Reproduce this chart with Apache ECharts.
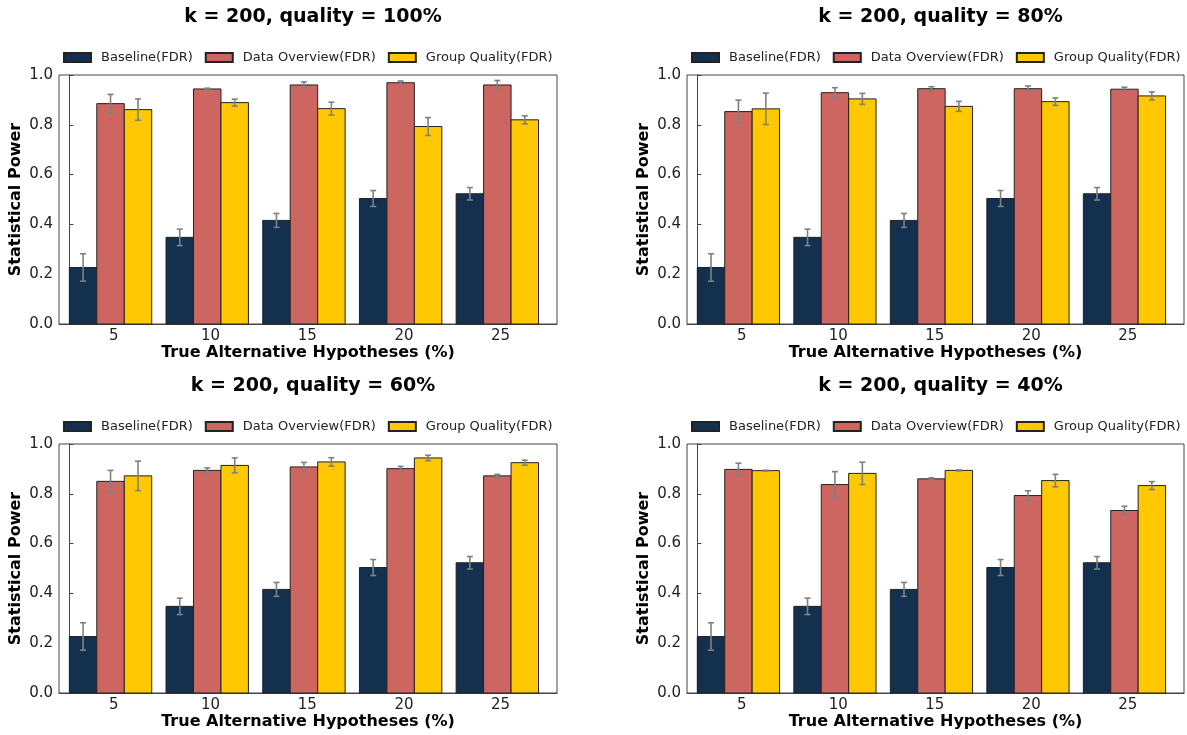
<!DOCTYPE html>
<html>
<head>
<meta charset="utf-8">
<title>Statistical Power by Quality</title>
<script src="https://cdn.jsdelivr.net/npm/echarts@6/dist/echarts.min.js"></script>
<style>
  html, body { margin: 0; padding: 0; background: #ffffff; }
  #chart { width: 1187px; height: 735px; }
</style>
</head>
<body>
<div id="chart"></div>
<script>
// Categories on the x axis: share of true alternative hypotheses (%)
const categories = ['5', '10', '15', '20', '25'];
const qualityLevels = ['100%', '80%', '60%', '40%'];
const seriesNames = ['Baseline(FDR)', 'Data Overview(FDR)', 'Group Quality(FDR)'];
const yTicks = [0, 0.2, 0.4, 0.6, 0.8, 1.0];

// Baseline does not depend on quality
const baselineMean = [0.227, 0.348, 0.416, 0.504, 0.523];
const baselineErr  = [0.055, 0.033, 0.028, 0.032, 0.025];

// quality = 100%
const overviewMean100 = [0.885, 0.944, 0.960, 0.969, 0.960];
const overviewErr100  = [0.037, 0.003, 0.012, 0.007, 0.018];
const groupMean100    = [0.861, 0.889, 0.865, 0.793, 0.820];
const groupErr100     = [0.043, 0.014, 0.026, 0.036, 0.016];

// quality = 80%
const overviewMean80 = [0.853, 0.929, 0.945, 0.945, 0.943];
const overviewErr80  = [0.046, 0.020, 0.008, 0.011, 0.008];
const groupMean80    = [0.864, 0.904, 0.874, 0.893, 0.916];
const groupErr80     = [0.063, 0.022, 0.020, 0.015, 0.016];

// quality = 60%
const overviewMean60 = [0.850, 0.894, 0.908, 0.901, 0.872];
const overviewErr60  = [0.044, 0.010, 0.018, 0.009, 0.006];
const groupMean60    = [0.872, 0.914, 0.928, 0.944, 0.925];
const groupErr60     = [0.059, 0.030, 0.017, 0.011, 0.010];

// quality = 40%
const overviewMean40 = [0.898, 0.837, 0.860, 0.793, 0.733];
const overviewErr40  = [0.025, 0.052, 0.004, 0.019, 0.017];
const groupMean40    = [0.893, 0.882, 0.894, 0.853, 0.833];
const groupErr40     = [0.002, 0.045, 0.002, 0.025, 0.016];

const panels = [
  { quality: qualityLevels[0], overview: [overviewMean100, overviewErr100], group: [groupMean100, groupErr100] },
  { quality: qualityLevels[1], overview: [overviewMean80,  overviewErr80],  group: [groupMean80,  groupErr80] },
  { quality: qualityLevels[2], overview: [overviewMean60,  overviewErr60],  group: [groupMean60,  groupErr60] },
  { quality: qualityLevels[3], overview: [overviewMean40,  overviewErr40],  group: [groupMean40,  groupErr40] }
];

const colors = ['#14304f', '#cd6660', '#ffc800'];
const FONT = '"DejaVu Sans", "Liberation Sans", sans-serif';

// Bar geometry in x-axis units: each group starts at integer i
const BAR_W = 0.284;
const TICK_OFFSET = 0.46;
const X_MIN = -0.107, X_MAX = 5.043;

// Grid boxes (pixels)
const grids = [
  { left: 59,  top: 75,  width: 498, height: 249 },
  { left: 687, top: 75,  width: 497, height: 249 },
  { left: 59,  top: 444, width: 498, height: 249 },
  { left: 687, top: 444, width: 497, height: 249 }
];

function makeRender(slot, fill) {
  return function (params, api) {
    const i = api.value(0), v = api.value(1), e = api.value(2);
    const p0 = api.coord([i + slot * BAR_W, 0]);
    const p1 = api.coord([i + (slot + 1) * BAR_W, v]);
    const cx = api.coord([i + (slot + 0.5) * BAR_W, v])[0];
    const yHi = api.coord([i, v + e])[1];
    const yLo = api.coord([i, v - e])[1];
    const cap = 3;
    const errStyle = { stroke: '#808080', lineWidth: 1.6 };
    return {
      type: 'group',
      children: [
        { type: 'rect',
          shape: { x: p0[0], y: p1[1], width: p1[0] - p0[0], height: p0[1] - p1[1] },
          style: { fill: fill, stroke: '#222222', lineWidth: 1 } },
        { type: 'line', shape: { x1: cx, y1: yHi, x2: cx, y2: yLo }, style: errStyle },
        { type: 'line', shape: { x1: cx - cap, y1: yHi, x2: cx + cap, y2: yHi }, style: errStyle },
        { type: 'line', shape: { x1: cx - cap, y1: yLo, x2: cx + cap, y2: yLo }, style: errStyle }
      ]
    };
  };
}

const option = {
  animation: false,
  backgroundColor: '#ffffff',
  title: [],
  legend: [],
  grid: [],
  xAxis: [],
  yAxis: [],
  series: []
};

panels.forEach(function (panel, k) {
  const g = grids[k];
  option.grid.push({
    left: g.left, top: g.top, width: g.width, height: g.height,
    show: true, borderColor: '#444444', borderWidth: 1, backgroundColor: 'transparent'
  });

  option.title.push({
    text: 'k = 200, quality = ' + panel.quality,
    left: g.left + g.width / 2,
    textAlign: 'center',
    top: g.top - 72,
    textStyle: { fontFamily: FONT, fontWeight: 'bold', fontSize: 19, color: '#000000' }
  });

  option.legend.push({
    data: seriesNames,
    left: g.left + 4,
    top: g.top - 24,
    width: 560,
    padding: 0,
    itemWidth: 27,
    itemHeight: 9,
    itemGap: 12,
    icon: 'rect',
    textStyle: { fontFamily: FONT, fontSize: 13, color: '#222222', padding: [0, 0, 0, 5] }
  });

  option.xAxis.push({
    type: 'value',
    gridIndex: k,
    min: X_MIN,
    max: X_MAX,
    name: 'True Alternative Hypotheses (%)',
    nameLocation: 'middle',
    nameGap: 29,
    nameTextStyle: { fontFamily: FONT, fontWeight: 'bold', fontSize: 16, color: '#000000', verticalAlign: 'middle' },
    axisLine: { show: true, lineStyle: { color: '#444444', width: 1 } },
    axisTick: { show: false },
    splitLine: { show: false },
    axisLabel: {
      customValues: categories.map(function (c, i) { return i + TICK_OFFSET; }),
      formatter: function (v) { return categories[Math.round(v - TICK_OFFSET)]; },
      fontFamily: FONT, fontSize: 15, color: '#222222', margin: 5
    }
  });

  option.yAxis.push({
    type: 'value',
    gridIndex: k,
    min: yTicks[0],
    max: yTicks[yTicks.length - 1],
    interval: 0.2,
    name: 'Statistical Power',
    nameLocation: 'middle',
    nameGap: 43,
    nameTextStyle: { fontFamily: FONT, fontWeight: 'bold', fontSize: 16, color: '#000000', verticalAlign: 'middle' },
    axisLine: { show: true, lineStyle: { color: '#444444', width: 1 } },
    axisTick: { show: true, inside: true, length: 4, lineStyle: { color: '#444444' } },
    splitLine: { show: false },
    axisLabel: {
      formatter: function (v) { return v.toFixed(1); },
      fontFamily: FONT, fontSize: 15, color: '#222222', margin: 6
    }
  });

  const groupsForPanel = [
    [baselineMean, baselineErr],
    panel.overview,
    panel.group
  ];
  groupsForPanel.forEach(function (pair, s) {
    option.series.push({
      type: 'custom',
      name: seriesNames[s],
      xAxisIndex: k,
      yAxisIndex: k,
      itemStyle: { color: colors[s], borderColor: '#222222', borderWidth: 1 },
      renderItem: makeRender(s, colors[s]),
      encode: { x: 0, y: 1 },
      data: pair[0].map(function (m, i) { return [i, m, pair[1][i]]; })
    });
  });
});

const chart = echarts.init(document.getElementById('chart'), null, { renderer: 'canvas' });
chart.setOption(option);
</script>
</body>
</html>
